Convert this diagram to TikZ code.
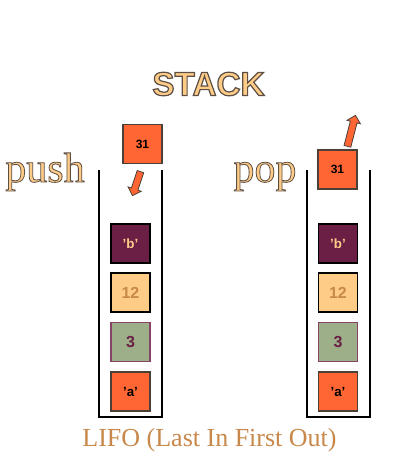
\documentclass[tikz,border=0pt]{standalone}
\usepackage{fontspec}
\setmainfont{Liberation Serif}
\setsansfont{Liberation Sans}
\usetikzlibrary{shapes.arrows}

\definecolor{naranja}{HTML}{FF6633}
\definecolor{granate}{HTML}{6B1F45}
\definecolor{durazno}{HTML}{FFCC88}
\definecolor{salvia}{HTML}{9CAF88}
\definecolor{canela}{HTML}{C8884A}
\definecolor{borde}{HTML}{4A4038}
\definecolor{malva}{HTML}{884466}

% texto relleno con contorno oscuro
\newcommand{\contorno}[2]{{\color{durazno}\special{pdf:literal direct 0.36 0.31 0.27 RG #1 w 2 Tr}#2\special{pdf:literal direct 0 Tr}}}

\begin{document}
\begin{tikzpicture}[x=0.75pt, y=-0.75pt,
    caja/.style={draw, line width=1.1pt, minimum size=29pt, inner sep=0pt, font=\sffamily\bfseries},
    pila/.style={line width=1.5pt},
    flecha/.style={single arrow, draw=borde, fill=naranja, line width=0.6pt,
        inner xsep=0pt, inner ysep=2.3pt, single arrow head extend=2.6pt,
        single arrow head indent=0pt}]
    \useasboundingbox (0,0) rectangle (407,476);

    % Titulo
    \node (titulo) at (208.5,84) {\fontsize{25}{28}\selectfont\sffamily\bfseries\contorno{0.9}{STACK}};

    % Pila izquierda (push)
    \node[anchor=base] (push) at (45,182) {\fontsize{31.5}{36}\selectfont\contorno{0.6}{push}};
    \draw[pila] (99,170) -- (99,417) -- (162,417) -- (162,170);
    \node[caja, fill=granate, text=durazno] (izqB) at (130.5,243.5) {'b'};
    \node[caja, fill=durazno, text=canela, font=\sffamily\bfseries\large] (izq12) at (130.5,292.5) {12};
    \node[caja, draw=malva, fill=salvia, text=granate, font=\sffamily\bfseries\large] (izq3) at (130.5,342) {3};
    \node[caja, draw=borde, fill=naranja] (izqA) at (130.5,391.5) {'a'};
    \node[caja, draw=borde, fill=naranja, font=\sffamily\bfseries\small] (izq31) at (142.5,144) {31};
    \node[flecha, minimum height=19pt, rotate=251.6] (flechaPush) at (137,182) {};

    % Pila derecha (pop)
    \node[anchor=base] (pop) at (265,182) {\fontsize{31.5}{36}\selectfont\contorno{0.6}{pop}};
    \draw[pila] (307,170) -- (307,417) -- (370,417) -- (370,170);
    \node[caja, fill=granate, text=durazno] (derB) at (338,243.5) {'b'};
    \node[caja, fill=durazno, text=canela, font=\sffamily\bfseries\large] (der12) at (338,292.5) {12};
    \node[caja, draw=malva, fill=salvia, text=granate, font=\sffamily\bfseries\large] (der3) at (338,342) {3};
    \node[caja, draw=borde, fill=naranja] (derA) at (338,391.5) {'a'};
    \node[caja, draw=borde, fill=naranja, font=\sffamily\bfseries\small] (der31) at (337.5,169.5) {31};
    \node[flecha, minimum height=24pt, rotate=75.5] (flechaPop) at (351,132.5) {};

    % Leyenda
    \node[anchor=base, text=canela] (lifo) at (209.5,446) {\fontsize{19.5}{23}\selectfont LIFO (Last In First Out)};
\end{tikzpicture}
\end{document}
